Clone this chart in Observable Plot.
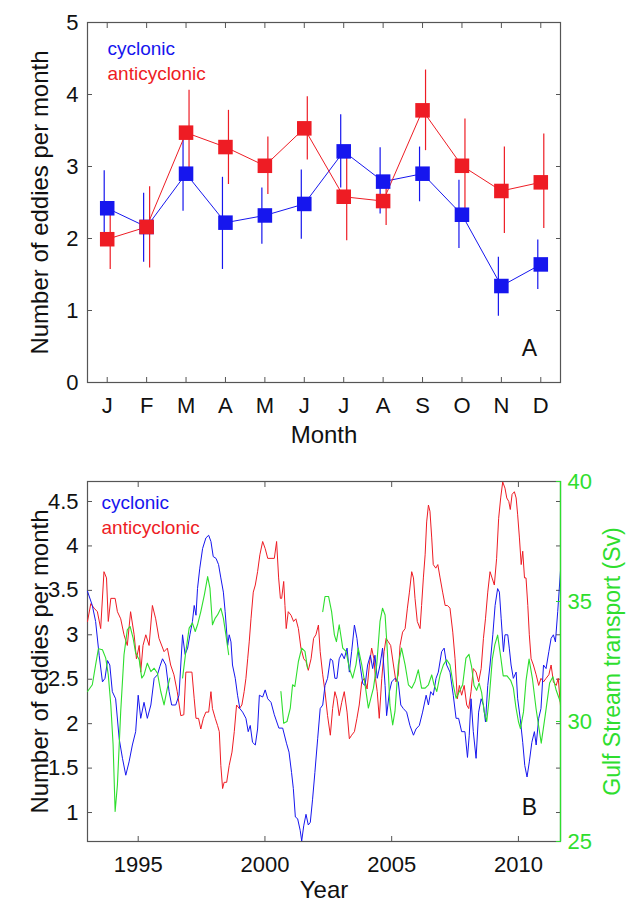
<!DOCTYPE html>
<html><head><meta charset="utf-8">
<script src="https://cdn.jsdelivr.net/npm/d3@7"></script>
<script src="https://cdn.jsdelivr.net/npm/@observablehq/plot@0.6"></script>
<style>
body{margin:0;background:#fff;}
#wrap{position:relative;width:626px;height:904px;overflow:hidden;background:#fff;}
#wrap svg{position:absolute;left:0;}
</style></head><body><div id="wrap"></div>
<script>
// ---------- Panel A: monthly climatology ----------
const months = ["J","F","M","A","M","J","J","A","S","O","N","D"];
const cycMean  = [2.42, 2.16, 2.90, 2.22, 2.32, 2.48, 3.21, 2.79, 2.90, 2.33, 1.34, 1.64];
const cycLow   = [1.92, 1.67, 2.38, 1.57, 1.92, 1.99, 2.70, 2.34, 2.51, 1.86, 0.92, 1.29];
const cycHigh  = [2.94, 2.63, 3.42, 2.85, 2.70, 2.95, 3.72, 3.26, 3.27, 2.81, 1.74, 1.98];
const antiMean = [1.99, 2.16, 3.47, 3.27, 3.01, 3.53, 2.58, 2.52, 3.78, 3.01, 2.66, 2.78];
const antiLow  = [1.57, 1.59, 2.90, 2.75, 2.61, 3.09, 1.97, 2.18, 3.22, 2.35, 2.07, 2.14];
const antiHigh = [2.41, 2.72, 4.06, 3.78, 3.41, 3.97, 3.20, 2.86, 4.34, 3.66, 3.27, 3.45];
const yTicksA = [0, 1, 2, 3, 4, 5];

// ---------- Panel B: time series ----------
const cycYears = [1993.00,1993.19,1993.32,1993.46,1993.59,1993.69,1993.79,1993.88,1993.98,1994.11,1994.25,1994.38,1994.51,1994.64,1994.77,1994.90,1995.00,1995.10,1995.23,1995.36,1995.50,1995.63,1995.76,1995.85,1995.96,1996.09,1996.22,1996.32,1996.48,1996.61,1996.75,1996.85,1996.95,1997.04,1997.14,1997.21,1997.28,1997.34,1997.43,1997.54,1997.67,1997.78,1997.87,1997.96,1998.07,1998.17,1998.26,1998.36,1998.43,1998.53,1998.59,1998.66,1998.72,1998.83,1998.92,1999.01,1999.12,1999.25,1999.34,1999.42,1999.51,1999.62,1999.71,1999.78,1999.91,2000.01,2000.11,2000.24,2000.37,2000.55,2000.70,2000.85,2000.95,2001.05,2001.12,2001.20,2001.29,2001.39,2001.45,2001.53,2001.62,2001.71,2001.79,2001.88,2001.97,2002.08,2002.18,2002.28,2002.37,2002.47,2002.58,2002.67,2002.76,2002.84,2002.93,2003.03,2003.13,2003.24,2003.33,2003.42,2003.53,2003.63,2003.72,2003.86,2003.95,2004.05,2004.16,2004.25,2004.34,2004.43,2004.54,2004.64,2004.74,2004.80,2004.91,2005.00,2005.13,2005.26,2005.36,2005.46,2005.59,2005.72,2005.86,2005.96,2006.09,2006.22,2006.36,2006.45,2006.54,2006.64,2006.75,2006.84,2006.97,2007.07,2007.17,2007.30,2007.43,2007.54,2007.64,2007.76,2007.89,2007.99,2008.06,2008.13,2008.22,2008.33,2008.43,2008.53,2008.62,2008.70,2008.79,2008.88,2008.99,2009.08,2009.18,2009.25,2009.32,2009.41,2009.47,2009.58,2009.64,2009.71,2009.80,2009.91,2009.97,2010.07,2010.17,2010.25,2010.34,2010.43,2010.53,2010.63,2010.70,2010.80,2010.89,2010.99,2011.09,2011.20,2011.29,2011.38,2011.46,2011.55,2011.66];
const cycVals = [3.49,3.33,3.15,2.77,2.47,2.51,2.71,2.66,2.36,2.28,1.83,1.61,1.42,1.57,1.76,1.91,2.32,2.06,2.24,2.06,2.21,2.51,2.55,2.64,2.73,2.66,2.36,2.21,2.21,2.32,3.00,2.78,2.85,3.00,3.15,3.33,3.22,3.52,3.75,3.97,4.09,4.12,4.05,3.88,3.86,3.79,3.64,3.48,3.26,2.88,3.00,2.92,2.66,2.51,2.32,2.17,2.13,2.06,1.91,1.98,1.79,1.76,1.94,2.32,2.30,2.38,2.28,2.24,2.10,1.95,1.95,1.78,1.68,1.45,1.27,0.95,0.93,0.80,0.68,0.85,0.98,0.86,0.89,1.15,1.45,1.83,2.17,2.21,2.43,2.51,2.73,2.71,2.51,2.51,2.73,2.79,2.73,2.85,2.58,2.81,3.11,2.96,2.73,2.45,2.43,2.66,2.77,2.62,2.77,2.51,2.66,2.85,2.43,2.09,2.36,2.47,2.51,2.47,2.21,2.17,2.13,1.98,1.87,1.94,1.98,2.13,2.32,2.21,2.36,2.32,2.51,2.58,2.81,2.85,2.66,2.58,2.32,2.06,2.06,1.91,1.91,1.62,1.87,2.28,1.91,1.61,2.13,2.28,2.21,2.02,2.43,2.66,3.00,3.33,3.52,3.48,3.18,2.81,3.00,3.00,2.85,2.66,2.51,2.58,2.28,2.06,1.79,1.53,1.40,1.57,1.79,1.91,1.76,2.06,2.17,2.66,2.62,2.81,2.96,3.00,2.92,3.26,3.72];

const antiYears = [1993.00,1993.13,1993.26,1993.39,1993.52,1993.65,1993.75,1993.82,1993.92,1994.09,1994.18,1994.31,1994.44,1994.57,1994.70,1994.84,1994.93,1995.04,1995.10,1995.19,1995.30,1995.43,1995.56,1995.69,1995.82,1996.02,1996.15,1996.28,1996.41,1996.54,1996.68,1996.80,1996.88,1997.01,1997.12,1997.21,1997.28,1997.38,1997.47,1997.57,1997.67,1997.78,1997.87,1997.93,1998.04,1998.13,1998.20,1998.26,1998.33,1998.39,1998.49,1998.59,1998.70,1998.79,1998.88,1998.99,1999.09,1999.18,1999.25,1999.32,1999.38,1999.45,1999.54,1999.62,1999.71,1999.80,1999.91,2000.01,2000.11,2000.24,2000.37,2000.46,2000.54,2000.61,2000.66,2000.74,2000.79,2000.84,2000.92,2001.03,2001.13,2001.22,2001.32,2001.42,2001.53,2001.62,2001.71,2001.82,2001.92,2002.01,2002.11,2002.18,2002.28,2002.37,2002.47,2002.58,2002.67,2002.76,2002.84,2002.93,2003.03,2003.13,2003.24,2003.33,2003.42,2003.53,2003.63,2003.72,2003.82,2003.92,2004.03,2004.12,2004.21,2004.30,2004.36,2004.43,2004.51,2004.61,2004.70,2004.78,2004.87,2004.96,2005.07,2005.17,2005.26,2005.33,2005.43,2005.53,2005.62,2005.70,2005.79,2005.86,2005.92,2006.01,2006.12,2006.18,2006.25,2006.32,2006.38,2006.45,2006.51,2006.58,2006.64,2006.74,2006.82,2006.91,2007.01,2007.11,2007.20,2007.30,2007.41,2007.50,2007.59,2007.67,2007.76,2007.86,2007.96,2008.04,2008.13,2008.22,2008.33,2008.43,2008.53,2008.62,2008.70,2008.79,2008.88,2008.96,2009.05,2009.14,2009.22,2009.30,2009.38,2009.47,2009.54,2009.62,2009.68,2009.75,2009.84,2009.91,2009.97,2010.04,2010.11,2010.17,2010.24,2010.30,2010.37,2010.43,2010.50,2010.59,2010.70,2010.80,2010.89,2010.99,2011.09,2011.20,2011.29,2011.38,2011.49,2011.57,2011.66];
const antiVals = [3.15,3.35,3.30,3.26,3.07,3.71,3.64,3.15,3.41,3.41,3.26,3.18,3.00,2.88,3.26,3.00,2.73,2.88,2.58,2.88,3.00,2.88,3.33,3.18,2.96,2.81,2.85,2.66,2.55,2.36,2.09,2.10,2.58,2.58,2.58,2.28,2.06,2.06,1.94,2.06,2.13,2.13,2.36,2.17,2.06,1.98,1.91,1.53,1.27,1.34,1.34,1.53,1.68,1.91,2.21,2.17,2.21,2.36,2.51,2.73,2.92,3.18,3.48,3.56,3.71,3.90,4.05,3.97,3.86,3.86,3.86,4.05,3.64,3.41,3.41,3.60,3.33,3.07,3.26,3.22,3.15,3.18,3.07,2.85,2.73,2.70,2.60,2.73,2.96,3.00,3.11,2.81,2.55,2.36,2.09,1.87,2.17,2.36,2.28,2.09,2.24,2.36,2.13,1.83,1.87,1.91,2.06,2.21,2.47,2.51,2.39,2.66,2.85,2.73,2.51,2.36,2.06,2.51,2.81,2.96,2.92,2.88,2.66,2.47,2.55,2.88,3.03,3.07,3.30,3.48,3.71,3.64,3.41,3.15,3.07,3.33,3.64,3.90,4.27,4.46,4.39,4.09,3.79,3.75,3.79,3.64,3.48,3.33,3.33,3.30,3.03,2.73,2.28,2.43,2.32,2.43,2.21,2.17,2.36,2.62,2.58,2.47,2.62,2.96,3.18,3.48,3.71,3.64,3.56,3.86,4.31,4.54,4.72,4.65,4.54,4.50,4.41,4.58,4.61,4.54,4.35,4.09,3.79,3.94,3.64,3.64,3.33,3.00,2.73,2.66,2.55,2.43,2.51,2.47,2.51,2.55,2.66,2.47,2.43,2.51,2.20];

// Gulf Stream transport (Sv); null marks a gap in the record
const gsYears = [1993.00,1993.19,1993.32,1993.43,1993.59,1993.72,1993.82,1993.92,1994.01,1994.09,1994.18,1994.31,1994.44,1994.57,1994.68,1994.80,1994.90,1995.04,1995.14,1995.23,1995.36,1995.50,1995.63,1995.76,1995.89,1996.02,1996.15,1996.25,1996.50,
 1996.75,1996.88,1997.01,1997.14,1997.25,1997.34,1997.47,1997.61,1997.74,1997.83,1997.93,1998.04,1998.13,1998.26,1998.36,1998.46,1998.57,1999.50,
 2000.63,2000.74,2000.87,2001.00,2001.09,2001.18,2001.32,2001.45,2001.58,2001.68,2002.00,
 2002.28,2002.37,2002.51,2002.63,2002.74,2002.82,2002.93,2003.07,2003.20,2003.33,2003.46,2003.59,2003.68,2003.82,2003.95,2004.08,2004.21,2004.28,2004.41,2004.54,2004.64,2004.74,2004.83,2004.93,2005.04,2005.13,2005.26,2005.39,2005.53,2005.66,2005.79,2005.92,2006.05,2006.18,2006.32,2006.45,2006.58,2006.67,2006.78,2006.91,2007.04,2007.17,2007.30,2007.43,2007.54,2007.67,2007.80,2007.93,2008.05,2008.15,2008.25,2008.35,2008.45,2008.55,2008.65,2008.75,2008.85,2008.97,2009.07,2009.18,2009.30,2009.40,2009.55,2009.70,2009.80,2009.90,2010.00,2010.08,2010.20,2010.30,2010.42,2010.55,2010.70,2010.90,2011.05,2011.23,2011.36,2011.49,2011.66];
const gsVals = [31.25,31.53,32.36,33.03,32.99,32.64,31.94,30.69,29.03,26.25,27.36,30.42,32.78,33.82,33.96,33.47,32.85,32.57,31.81,31.94,32.43,32.08,32.22,32.01,31.25,30.69,31.39,31.81,null,
 31.81,32.92,33.89,34.10,33.75,34.03,34.58,35.28,36.04,35.56,34.03,34.31,34.44,34.72,34.31,33.61,32.78,null,
 31.25,29.93,30.00,30.56,31.53,31.46,32.50,33.06,32.92,32.22,null,
 34.58,35.21,35.21,34.58,33.61,33.33,34.03,33.06,32.92,32.22,31.81,32.36,33.06,32.36,31.53,30.56,31.11,31.39,32.36,34.17,34.72,34.44,32.92,30.69,29.86,30.42,32.36,33.06,32.36,31.53,31.39,31.67,32.15,31.39,31.39,31.53,31.94,31.53,31.25,31.94,32.36,32.57,32.36,31.53,30.97,31.25,31.53,32.64,32.80,32.30,31.50,31.30,31.60,31.20,30.40,30.00,31.00,32.60,33.20,33.60,32.70,31.90,31.90,31.70,31.40,30.60,30.00,29.70,30.40,31.70,32.60,31.80,30.50,29.10,30.20,31.60,31.86,31.30,30.80];
const yTicksB = [1, 1.5, 2, 2.5, 3, 3.5, 4, 4.5];
const yearTicks = [1995, 2000, 2005, 2010];
const gsTicks = [25, 30, 35, 40];
const yearDomain = [1993.0, 2011.66];
const eddyDomainB = [0.674, 4.725];
const gsDomain = [25, 40];

// ---------- styling ----------
const FONT = '"Liberation Sans", Arial, Helvetica, sans-serif';
const BLUE = "#1616ee", RED = "#ee1c24", GREEN = "#2ede2e", FRAME = "#555", INK = "#111";
const W = 626;

const monthly = months.map((m, i) => ({x: i + 1, cm: cycMean[i], cl: cycLow[i], ch: cycHigh[i], am: antiMean[i], al: antiLow[i], ah: antiHigh[i]}));
const cyc = cycYears.map((t, i) => ({t, v: cycVals[i]}));
const anti = antiYears.map((t, i) => ({t, v: antiVals[i]}));
const gs = gsYears.map((t, i) => ({t, v: gsVals[i] == null ? NaN : gsVals[i]}));

const styleBase = {fontFamily: FONT, background: "transparent", overflow: "visible"};

const topPlot = Plot.plot({
  width: W, height: 460,
  marginTop: 22, marginRight: 66, marginBottom: 78, marginLeft: 87,
  style: styleBase,
  x: {domain: [0.5, 12.5]},
  y: {domain: [0, 5]},
  marks: [
    Plot.axisX(monthly.map(d => d.x), {tickSize: -5, tickPadding: 20, tickFormat: d => months[d - 1], fontSize: 22, label: null, stroke: FRAME, fill: INK}),
    Plot.axisX(monthly.map(d => d.x), {anchor: "top", tickSize: -5, tickFormat: () => "", label: null, stroke: FRAME}),
    Plot.axisY(yTicksA, {tickSize: -5, tickPadding: 14, fontSize: 22, label: null, stroke: FRAME, fill: INK, tickFormat: d => String(d)}),
    Plot.axisY(yTicksA, {anchor: "right", tickSize: -5, tickFormat: () => "", label: null, stroke: FRAME}),
    Plot.frame({stroke: FRAME, strokeWidth: 1.2}),
    Plot.ruleX(monthly, {x: "x", y1: "cl", y2: "ch", stroke: BLUE, strokeWidth: 1.2, dx: -3}),
    Plot.line(monthly, {x: "x", y: "cm", stroke: BLUE, strokeWidth: 1}),
    Plot.ruleX(monthly, {x: "x", y1: "al", y2: "ah", stroke: RED, strokeWidth: 1.2, dx: 3}),
    Plot.line(monthly, {x: "x", y: "am", stroke: RED, strokeWidth: 1}),
    Plot.dot(monthly, {x: "x", y: "cm", symbol: "square", r: 8.2, fill: BLUE}),
    Plot.dot(monthly, {x: "x", y: "am", symbol: "square", r: 8.2, fill: RED}),
    Plot.text(["cyclonic"], {text: d => d, frameAnchor: "top-left", dx: 20, dy: 26, textAnchor: "start", lineAnchor: "middle", fill: BLUE, fontSize: 19}),
    Plot.text(["anticyclonic"], {text: d => d, frameAnchor: "top-left", dx: 20, dy: 51, textAnchor: "start", lineAnchor: "middle", fill: RED, fontSize: 19}),
    Plot.text(["A"], {text: d => d, frameAnchor: "bottom-right", dx: -31, dy: -34, textAnchor: "middle", lineAnchor: "middle", fill: INK, fontSize: 23}),
    Plot.text(["Month"], {text: d => d, frameAnchor: "bottom", dy: 53, textAnchor: "middle", lineAnchor: "middle", fill: INK, fontSize: 24}),
    Plot.text(["Number of eddies per month"], {text: d => d, frameAnchor: "left", rotate: -90, dx: -47, textAnchor: "middle", lineAnchor: "middle", fill: INK, fontSize: 24})
  ]
});
topPlot.style.top = "0px";

const bMargins = {marginTop: 21, marginRight: 66, marginBottom: 63, marginLeft: 87};

const botPlot = Plot.plot({
  width: W, height: 444, ...bMargins,
  style: styleBase,
  x: {domain: yearDomain},
  y: {domain: eddyDomainB},
  marks: [
    Plot.axisX(yearTicks, {tickSize: -5, tickPadding: 20, tickFormat: d => String(d), fontSize: 22, label: null, stroke: FRAME, fill: INK}),
    Plot.axisX(yearTicks, {anchor: "top", tickSize: -5, tickFormat: () => "", label: null, stroke: FRAME}),
    Plot.axisY(yTicksB, {tickSize: -5, tickPadding: 14, fontSize: 22, label: null, stroke: FRAME, fill: INK, tickFormat: d => String(d)}),
    Plot.axisY(yTicksB, {anchor: "right", tickSize: -5, tickFormat: () => "", label: null, stroke: FRAME}),
    Plot.frame({stroke: FRAME, strokeWidth: 1.2}),
    Plot.line(anti, {x: "t", y: "v", stroke: RED, strokeWidth: 1}),
    Plot.line(cyc, {x: "t", y: "v", stroke: BLUE, strokeWidth: 1}),
    Plot.text(["cyclonic"], {text: d => d, frameAnchor: "top-left", dx: 14, dy: 21, textAnchor: "start", lineAnchor: "middle", fill: BLUE, fontSize: 19}),
    Plot.text(["anticyclonic"], {text: d => d, frameAnchor: "top-left", dx: 14, dy: 46, textAnchor: "start", lineAnchor: "middle", fill: RED, fontSize: 19}),
    Plot.text(["B"], {text: d => d, frameAnchor: "bottom-right", dx: -31, dy: -34, textAnchor: "middle", lineAnchor: "middle", fill: INK, fontSize: 23}),
    Plot.text(["Year"], {text: d => d, frameAnchor: "bottom", dy: 49, textAnchor: "middle", lineAnchor: "middle", fill: INK, fontSize: 24}),
    Plot.text(["Number of eddies per month"], {text: d => d, frameAnchor: "left", rotate: -90, dx: -47, textAnchor: "middle", lineAnchor: "middle", fill: INK, fontSize: 24})
  ]
});
botPlot.style.top = "460px";

const gsPlot = Plot.plot({
  width: W, height: 444, ...bMargins,
  style: styleBase,
  x: {domain: yearDomain, axis: null},
  y: {domain: gsDomain, axis: null},
  marks: [
    Plot.line(gs, {x: "t", y: "v", stroke: GREEN, strokeWidth: 1.1}),
    Plot.ruleX([yearDomain[1]], {stroke: GREEN, strokeWidth: 1.3}),
    Plot.axisY(gsTicks, {anchor: "right", tickSize: -5, tickPadding: 12, fontSize: 22, label: null, color: GREEN, tickFormat: d => String(d)}),
    Plot.text(["Gulf Stream transport (Sv)"], {text: d => d, frameAnchor: "right", rotate: -90, dx: 52, textAnchor: "middle", lineAnchor: "middle", fill: GREEN, fontSize: 23})
  ]
});
gsPlot.style.top = "460px";

const wrap = document.getElementById("wrap");
wrap.append(topPlot, botPlot, gsPlot);
</script>
</body></html>
